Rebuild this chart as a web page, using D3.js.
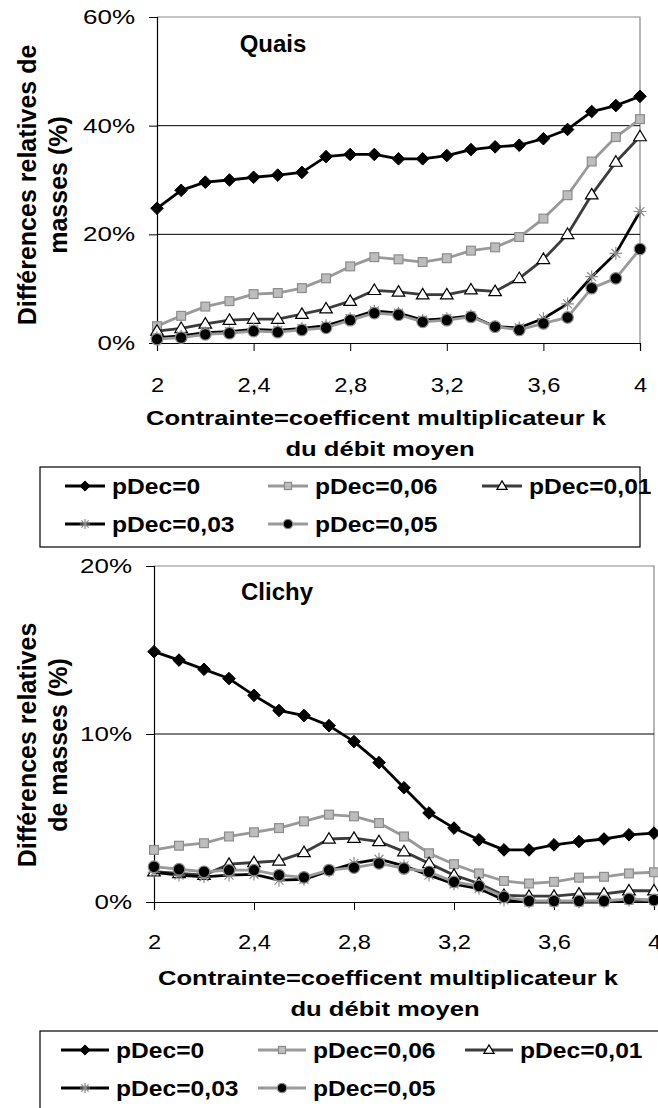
<!DOCTYPE html>
<html>
<head>
<meta charset="utf-8">
<script src="https://cdn.jsdelivr.net/npm/d3@7/dist/d3.min.js"></script>
<style>
  body { margin: 0; background: #fff; }
  text { font-family: "Liberation Sans", Arial, sans-serif; fill: #000; }
</style>
</head>
<body>
<script>
// k values (x axis)
const kValues = [2, 2.1, 2.2, 2.3, 2.4, 2.5, 2.6, 2.7, 2.8, 2.9, 3, 3.1, 3.2, 3.3, 3.4, 3.5, 3.6, 3.7, 3.8, 3.9, 4];
const xTicks = [2, 2.4, 2.8, 3.2, 3.6, 4];
const seriesNames = ["pDec=0", "pDec=0,06", "pDec=0,01", "pDec=0,03", "pDec=0,05"];

// Quais (%)
const quais0   = [24.8, 28.1, 29.6, 30.0, 30.5, 30.9, 31.4, 34.3, 34.7, 34.7, 33.9, 33.9, 34.5, 35.6, 36.1, 36.4, 37.6, 39.3, 42.6, 43.7, 45.4];
const quais006 = [3.1, 5.0, 6.7, 7.7, 9.0, 9.2, 10.1, 11.9, 14.1, 15.8, 15.4, 14.9, 15.6, 17.0, 17.6, 19.5, 22.9, 27.2, 33.4, 37.9, 41.2];
const quais001 = [2.2, 2.7, 3.5, 4.2, 4.4, 4.4, 5.3, 6.3, 7.7, 9.7, 9.4, 8.9, 8.9, 9.8, 9.5, 11.9, 15.4, 20.0, 27.3, 33.3, 38.0];
const quais003 = [1.0, 1.3, 1.9, 2.1, 2.5, 2.3, 2.7, 3.2, 4.5, 5.9, 5.5, 4.2, 4.5, 5.0, 3.0, 2.8, 4.5, 7.2, 12.2, 16.5, 24.2];
const quais005 = [0.7, 1.0, 1.6, 1.8, 2.2, 2.0, 2.4, 2.8, 4.2, 5.5, 5.2, 3.9, 4.2, 4.8, 3.0, 2.4, 3.6, 4.7, 10.1, 11.9, 17.3];

// Clichy (%)
const clichy0   = [14.9, 14.4, 13.85, 13.3, 12.3, 11.4, 11.1, 10.5, 9.55, 8.3, 6.8, 5.3, 4.4, 3.7, 3.1, 3.1, 3.4, 3.6, 3.75, 4.0, 4.1];
const clichy006 = [3.1, 3.35, 3.5, 3.9, 4.15, 4.4, 4.8, 5.2, 5.1, 4.7, 3.9, 2.9, 2.25, 1.7, 1.25, 1.1, 1.2, 1.45, 1.5, 1.7, 1.77];
const clichy001 = [1.8, 1.7, 1.6, 2.25, 2.35, 2.45, 2.95, 3.75, 3.8, 3.6, 3.0, 2.3, 1.6, 1.1, 0.4, 0.35, 0.35, 0.48, 0.48, 0.67, 0.67];
const clichy003 = [1.77, 1.6, 1.5, 1.6, 1.65, 1.3, 1.35, 1.85, 2.3, 2.55, 2.15, 1.6, 1.07, 0.8, 0.12, 0.0, 0.0, 0.0, 0.0, 0.1, 0.1];
const clichy005 = [2.1, 1.95, 1.8, 1.9, 1.9, 1.6, 1.47, 1.9, 2.05, 2.3, 2.0, 1.8, 1.2, 0.95, 0.3, 0.06, 0.06, 0.06, 0.06, 0.18, 0.12];

const quaisTicks = [0, 20, 40, 60];
const clichyTicks = [0, 10, 20];

const styles = [
  { line: "#000", width: 2.8, marker: "diamond", fill: "#000", stroke: "#000" },
  { line: "#999", width: 2.8, marker: "square", fill: "#bdbdbd", stroke: "#8c8c8c" },
  { line: "#3c3c3c", width: 2.8, marker: "triangle", fill: "#fff", stroke: "#000" },
  { line: "#000", width: 2.8, marker: "star", fill: "none", stroke: "#8c8c8c" },
  { line: "#9a9a9a", width: 2.8, marker: "circle", fill: "#000", stroke: "#8c8c8c" }
];

const svg = d3.select("body").append("svg")
  .attr("width", 658)
  .attr("height", 1108);

// text that is stretched horizontally, like the original picture
function addText(g, x, y, str, size, bold, anchor, sx) {
  return g.append("text")
    .attr("transform", `translate(${x},${y}) scale(${sx},1)`)
    .attr("text-anchor", anchor)
    .attr("font-size", size)
    .attr("font-weight", bold ? "bold" : "normal")
    .text(str);
}

function drawMarker(g, type, x, y, st, s) {
  if (type === "diamond") {
    const r = s * 0.6;
    g.append("path").attr("d", `M${x},${y - r}L${x + r},${y}L${x},${y + r}L${x - r},${y}Z`)
      .attr("fill", st.fill).attr("stroke", st.stroke).attr("stroke-width", 1);
  } else if (type === "square") {
    g.append("rect").attr("x", x - s * 0.42).attr("y", y - s * 0.42)
      .attr("width", s * 0.84).attr("height", s * 0.84)
      .attr("fill", st.fill).attr("stroke", st.stroke).attr("stroke-width", 1.2);
  } else if (type === "triangle") {
    const h = s * 1.0;
    g.append("path")
      .attr("d", `M${x},${y - h * 0.6}L${x + h * 0.6},${y + h * 0.4}L${x - h * 0.6},${y + h * 0.4}Z`)
      .attr("fill", st.fill).attr("stroke", st.stroke).attr("stroke-width", 1.2);
  } else if (type === "star") {
    const r = s * 0.6;
    const p = d3.path();
    for (let i = 0; i < 4; i++) {
      const a = i * Math.PI / 4;
      p.moveTo(x - r * Math.cos(a), y - r * Math.sin(a));
      p.lineTo(x + r * Math.cos(a), y + r * Math.sin(a));
    }
    g.append("path").attr("d", p.toString())
      .attr("stroke", st.stroke).attr("stroke-width", 1.2).attr("fill", "none");
  } else if (type === "circle") {
    g.append("circle").attr("cx", x).attr("cy", y).attr("r", s * 0.55)
      .attr("fill", st.fill).attr("stroke", st.stroke).attr("stroke-width", 1.2);
  }
}

function drawChart(opt) {
  const x = d3.scaleLinear().domain([2, 4]).range([opt.left, opt.right]);
  const y = d3.scaleLinear().domain([0, opt.yMax]).range([opt.bottom, opt.top]);
  const g = svg.append("g");

  // plot area border (grey top/right)
  g.append("path")
    .attr("d", `M${opt.left},${opt.top}H${opt.right}V${opt.bottom}`)
    .attr("fill", "none").attr("stroke", "#888").attr("stroke-width", 1.2);

  // gridlines
  g.selectAll(".grid").data(opt.yTicks.filter(t => t > 0 && t < opt.yMax)).enter()
    .append("line")
    .attr("x1", opt.left).attr("x2", opt.right)
    .attr("y1", d => y(d)).attr("y2", d => y(d))
    .attr("stroke", "#000").attr("stroke-width", 1);

  // y axis
  const ySx = 1.3;
  const yAxis = g.append("g").attr("transform", `translate(${opt.left},0)`)
    .call(d3.axisLeft(y).tickValues(opt.yTicks).tickSize(8).tickPadding(14).tickFormat(d => d + "%"));
  yAxis.select(".domain").attr("stroke", "#000").attr("stroke-width", 1.2);
  yAxis.selectAll(".tick line").attr("stroke", "#000");
  yAxis.selectAll("text").attr("font-size", 20).attr("fill", "#000")
    .attr("x", -22 / ySx).attr("transform", `scale(${ySx},1)`)
    .style("font-family", "'Liberation Sans', Arial, sans-serif");

  // x axis
  const xAxis = g.append("g").attr("transform", `translate(0,${opt.bottom})`)
    .call(d3.axisBottom(x).tickValues(xTicks).tickSize(8).tickPadding(opt.xPad)
      .tickFormat(d => String(d).replace(".", ",")));
  xAxis.select(".domain").attr("stroke", "#000").attr("stroke-width", 1.2);
  xAxis.selectAll(".tick line").attr("stroke", "#000");
  xAxis.selectAll("text").attr("font-size", 21).attr("fill", "#000")
    .attr("transform", "scale(1.13,1)")
    .style("font-family", "'Liberation Sans', Arial, sans-serif");

  // series
  const line = d3.line().x((d, i) => x(kValues[i])).y(d => y(d));
  opt.series.forEach((vals, si) => {
    const st = styles[si];
    g.append("path").datum(vals).attr("d", line)
      .attr("fill", "none").attr("stroke", st.line).attr("stroke-width", st.width)
      .attr("stroke-linejoin", "round");
    const mg = g.append("g");
    vals.forEach((v, i) => drawMarker(mg, st.marker, x(kValues[i]), y(v), st, 10.5));
  });

  // chart title
  addText(g, opt.titleX, opt.titleY, opt.title, 24, true, "middle", 1.0);

  // x title
  addText(g, opt.xTitleX, opt.xTitleY, "Contrainte=coefficent multiplicateur k", 21, true, "middle", 1.22);
  addText(g, opt.xTitleX2, opt.xTitleY + 31, "du débit moyen", 21, true, "middle", 1.22);

  // y title
  opt.yTitle.forEach((t, i) => {
    g.append("text")
      .attr("transform", `translate(${opt.yTitleX[i]},${opt.yTitleY}) rotate(-90)`)
      .attr("text-anchor", "middle").attr("font-size", 25).attr("font-weight", "bold")
      .text(t);
  });

  // legend
  const lg = g.append("g");
  lg.append("rect").attr("x", opt.legX).attr("y", opt.legY)
    .attr("width", opt.legW).attr("height", 80)
    .attr("fill", "#fff").attr("stroke", "#000").attr("stroke-width", 1.2);
  const cols = opt.legCols;
  seriesNames.forEach((name, si) => {
    const st = styles[si];
    const lx = cols[si % 3];
    const ly = opt.legY + 19 + Math.floor(si / 3) * 38;
    lg.append("line").attr("x1", lx).attr("x2", lx + opt.legLine).attr("y1", ly).attr("y2", ly)
      .attr("stroke", st.line).attr("stroke-width", st.width);
    drawMarker(lg, st.marker, lx + opt.legLine / 2, ly, st, 8.5);
    addText(lg, lx + opt.legLine + 7, ly + 8, name, 22, true, "start", 1.12);
  });
}

drawChart({
  left: 157, right: 640, top: 17, bottom: 343, yMax: 60, yTicks: quaisTicks, xPad: 26,
  series: [quais0, quais006, quais001, quais003, quais005],
  title: "Quais", titleX: 273, titleY: 52,
  xTitleX: 376, xTitleX2: 380, xTitleY: 425,
  yTitle: ["Différences relatives de", "masses (%)"], yTitleX: [36, 67], yTitleY: 185,
  legX: 40, legY: 467, legW: 600, legLine: 40, legCols: [65, 268, 482]
});

drawChart({
  left: 154, right: 654, top: 566, bottom: 902, yMax: 20, yTicks: clichyTicks, xPad: 24,
  series: [clichy0, clichy006, clichy001, clichy003, clichy005],
  title: "Clichy", titleX: 277, titleY: 600,
  xTitleX: 388, xTitleX2: 385, xTitleY: 985,
  yTitle: ["Différences relatives", "de masses (%)"], yTitleX: [36, 67], yTitleY: 745,
  legX: 40, legY: 1031, legW: 640, legLine: 48, legCols: [61, 258, 465]
});
</script>
</body>
</html>
